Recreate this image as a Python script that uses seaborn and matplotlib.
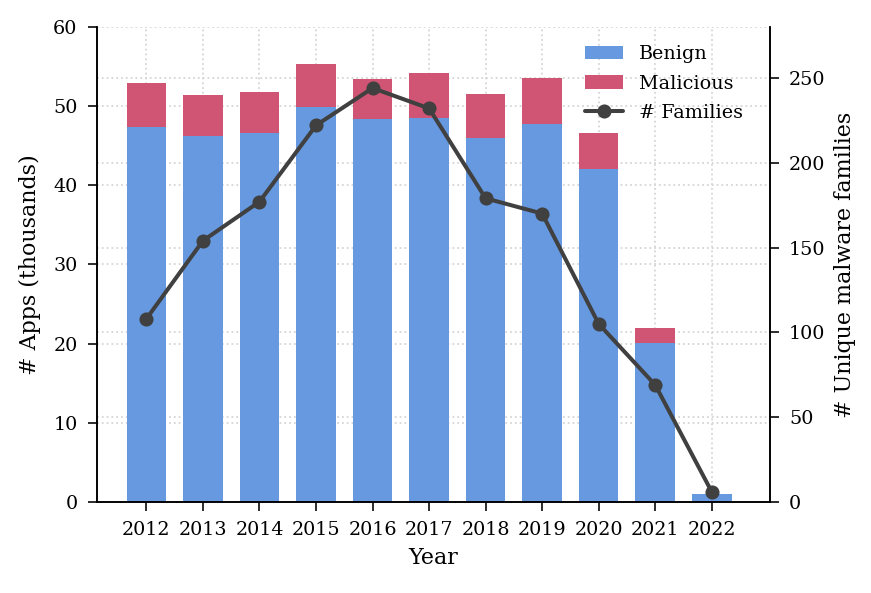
import numpy as np
import pandas as pd
import matplotlib
matplotlib.use("Agg")
import matplotlib.pyplot as plt
import seaborn as sns

# data
years = ["2012", "2013", "2014", "2015", "2016", "2017", "2018", "2019", "2020", "2021", "2022"]
benign = [47.4, 46.2, 46.6, 49.9, 48.4, 48.5, 46.0, 47.7, 42.1, 20.1, 1.0]
malicious = [5.5, 5.2, 5.2, 5.4, 5.0, 5.7, 5.5, 5.9, 4.5, 1.9, 0.07]
families = [108, 154, 177, 222, 244, 232, 179, 170, 105, 69, 6]

sns.set_style("ticks")
plt.rcParams["font.family"] = ["DejaVu Serif"]
plt.rcParams["font.size"] = 9.5
plt.rcParams["axes.labelsize"] = 11
plt.rcParams["axes.edgecolor"] = "black"
plt.rcParams["xtick.color"] = "black"
plt.rcParams["ytick.color"] = "black"
plt.rcParams["text.color"] = "black"
plt.rcParams["axes.labelcolor"] = "black"
plt.rcParams["xtick.major.size"] = 4.5
plt.rcParams["ytick.major.size"] = 4.5
plt.rcParams["xtick.major.pad"] = 5
plt.rcParams["ytick.major.pad"] = 5

c_benign = "#6699e0"
c_mal = "#d05474"
c_line = "#404040"
c_grid = "#d6d6d6"

df = pd.DataFrame({"year": years, "benign": benign, "malicious": malicious,
                   "total": np.array(benign) + np.array(malicious), "families": families})

fig = plt.figure(figsize=(871 / 145, 593 / 145), dpi=145)
ax = fig.add_axes([0.111, 0.1535, 0.773, 0.801])

sns.barplot(data=df, x="year", y="total", color=c_mal, width=0.7, saturation=1,
            ax=ax, label="Malicious", linewidth=0, zorder=2)
sns.barplot(data=df, x="year", y="benign", color=c_benign, width=0.7, saturation=1,
            ax=ax, label="Benign", linewidth=0, zorder=2)
ax.set_ylim(0, 60)
ax.set_xlim(-0.88, 11.03)
ax.set_xlabel("Year")
ax.set_ylabel("# Apps (thousands)", labelpad=6)
ax.grid(True, linestyle=":", color=c_grid, linewidth=0.9, zorder=0)
ax.set_axisbelow(True)
if ax.get_legend() is not None:
    ax.get_legend().remove()

ax2 = ax.twinx()
sns.lineplot(x=np.arange(len(years)), y=df["families"], color=c_line, marker="o",
             markersize=7, markeredgewidth=0, linewidth=2, ax=ax2, label="# Families")
ax2.set_ylim(0, 280)
ax2.set_ylabel("# Unique malware families")
ax2.get_legend().remove()

# right-axis grid drawn behind the bars, at the right axis tick values
scale = ax.get_ylim()[1] / ax2.get_ylim()[1]
for t in ax2.get_yticks():
    if 0 < t < ax2.get_ylim()[1]:
        ax.axhline(t * scale, linestyle=":", color=c_grid, linewidth=0.9, zorder=0)

for a in (ax, ax2):
    a.spines["top"].set_visible(False)

h1, l1 = ax.get_legend_handles_labels()
h2, l2 = ax2.get_legend_handles_labels()
hd = dict(zip(l1 + l2, h1 + h2))
order = ["Benign", "Malicious", "# Families"]
ax2.legend([hd[k] for k in order], order, loc="upper right", frameon=False,
           bbox_to_anchor=(0.985, 0.998), fontsize=9.5, labelspacing=0.6)

fig.savefig("out.png", dpi=145)
